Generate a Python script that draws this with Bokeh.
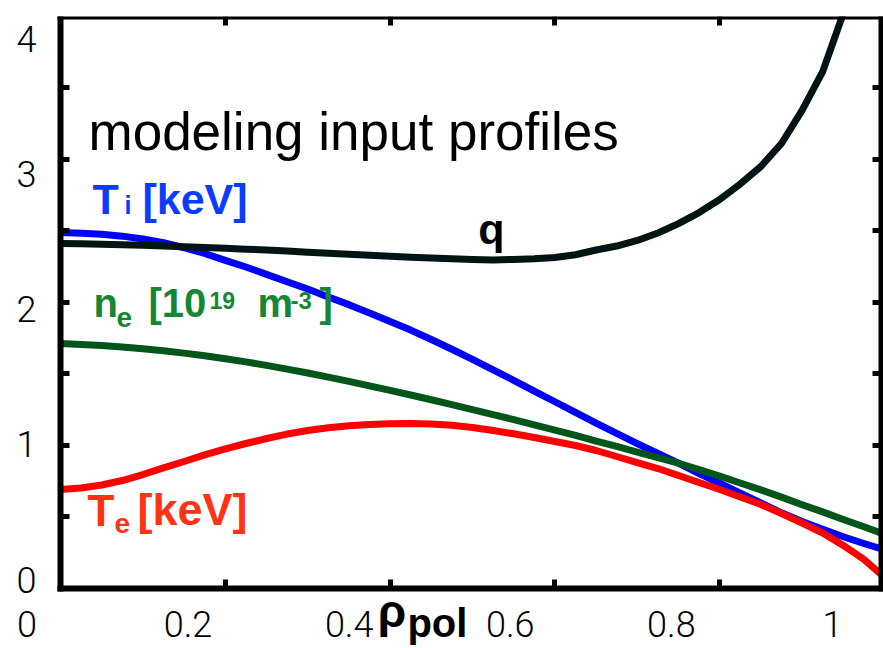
from bokeh.plotting import figure
from bokeh.models import Range1d, LinearAxis, FixedTicker, Label
from bokeh.embed import file_html
from bokeh.resources import INLINE

# Radial profiles on a common rho_pol grid (step 0.025)
rho = [0.000, 0.025, 0.050, 0.075, 0.100, 0.125, 0.150, 0.175, 0.200, 0.225,
       0.250, 0.275, 0.300, 0.325, 0.350, 0.375, 0.400, 0.425, 0.450, 0.475,
       0.500, 0.525, 0.550, 0.575, 0.600, 0.625, 0.650, 0.675, 0.700, 0.725,
       0.750, 0.775, 0.800, 0.825, 0.850, 0.875, 0.900, 0.925, 0.950, 0.975,
       1.000]
ti_kev = [2.490, 2.485, 2.477, 2.464, 2.444, 2.418, 2.383, 2.343, 2.295, 2.248,
          2.197, 2.145, 2.094, 2.039, 1.985, 1.927, 1.867, 1.807, 1.741, 1.673,
          1.602, 1.529, 1.456, 1.380, 1.306, 1.231, 1.156, 1.085, 1.013, 0.944,
          0.876, 0.804, 0.736, 0.666, 0.598, 0.529, 0.469, 0.414, 0.362, 0.315,
          0.270]
ne_1e19 = [1.713, 1.707, 1.699, 1.689, 1.677, 1.663, 1.646, 1.628, 1.607, 1.585,
           1.560, 1.534, 1.507, 1.478, 1.448, 1.417, 1.385, 1.353, 1.320, 1.286,
           1.251, 1.216, 1.181, 1.144, 1.108, 1.070, 1.031, 0.994, 0.954, 0.916,
           0.876, 0.831, 0.786, 0.738, 0.690, 0.639, 0.586, 0.536, 0.483, 0.432,
           0.379]
te_kev = [0.692, 0.703, 0.724, 0.755, 0.797, 0.843, 0.888, 0.934, 0.976, 1.014,
          1.049, 1.080, 1.105, 1.124, 1.138, 1.147, 1.152, 1.154, 1.150, 1.141,
          1.126, 1.105, 1.082, 1.056, 1.028, 1.000, 0.965, 0.923, 0.881, 0.839,
          0.790, 0.741, 0.692, 0.640, 0.587, 0.524, 0.458, 0.388, 0.301, 0.203,
          0.077]
# safety factor; it leaves the top of the box before the edge
q_safety = [2.413, 2.410, 2.408, 2.404, 2.400, 2.395, 2.390, 2.385, 2.379, 2.373,
            2.367, 2.360, 2.352, 2.345, 2.338, 2.331, 2.324, 2.317, 2.311, 2.306,
            2.301, 2.298, 2.301, 2.306, 2.315, 2.334, 2.367, 2.395, 2.434, 2.486,
            2.552, 2.629, 2.720, 2.829, 2.951, 3.112, 3.343, 3.615, 4.021, 4.503]
rho_q = rho[:len(q_safety)]

# Tick marks on the box and the printed tick labels
x_tick_marks = [0.2, 0.4, 0.6, 0.8]
y_tick_marks = [0.5, 1.0, 1.5, 2.0, 2.5, 3.0, 3.5]
x_tick_labels = [0.0, 0.2, 0.4, 0.6, 0.8, 1.0]
x_tick_text = ["0", "0.2", "0.4", "0.6", "0.8", "1"]
y_tick_labels = [0, 1, 2, 3, 4]

X_BOX = (0.0, 0.9964)
Y_BOX = (0.0, 4.0)

TICK_FONT = "Roboto Light"
BOLD_FONT = "Liberation Sans"

p = figure(width=883, height=648,
           x_range=Range1d(-0.0728, 0.9988), y_range=Range1d(-0.4196, 4.0),
           x_axis_location=None, y_axis_location=None,
           toolbar_location=None, output_backend="svg",
           min_border_left=0, min_border_right=0,
           min_border_top=16, min_border_bottom=0)
p.grid.visible = False
p.outline_line_color = None
p.background_fill_color = "white"
p.border_fill_color = "white"

# the printed tick labels use their own scales
p.extra_x_ranges = {"xlab": Range1d(-0.0328, 1.0633)}
p.extra_y_ranges = {"ylab": Range1d(-0.5109, 4.1688)}

# profiles
p.line(rho, ti_kev, line_color="#0000ff", line_width=7, line_join="round")
p.line(rho, ne_1e19, line_color="#03561a", line_width=7, line_join="round")
p.line(rho, te_kev, line_color="#ff0000", line_width=7, line_join="round")
p.line(rho_q, q_safety, line_color="#001414", line_width=7, line_join="round")


def box_side(location, bounds, marks):
    """A thick side of the box with short inward tick marks."""
    return LinearAxis(fixed_location=location, bounds=bounds,
                      ticker=FixedTicker(ticks=[], minor_ticks=marks),
                      axis_line_color="black", axis_line_width=6,
                      axis_line_cap="square",
                      major_tick_line_color=None,
                      minor_tick_in=9, minor_tick_out=0,
                      minor_tick_line_width=5, minor_tick_line_color="black")


p.add_layout(box_side(Y_BOX[0], X_BOX, x_tick_marks), "below")
p.add_layout(box_side(Y_BOX[1], X_BOX, x_tick_marks), "above")
p.add_layout(box_side(X_BOX[0], Y_BOX, y_tick_marks), "left")
p.add_layout(box_side(X_BOX[1], Y_BOX, y_tick_marks), "right")


def label_axis(ticks, standoff, **kw):
    return LinearAxis(ticker=FixedTicker(ticks=ticks),
                      major_tick_in=0, major_tick_out=0,
                      major_tick_line_color=None,
                      minor_tick_line_color=None, axis_line_color=None,
                      major_label_text_font=TICK_FONT,
                      major_label_text_font_size="36px",
                      major_label_text_color="black",
                      major_label_standoff=standoff, **kw)


xlab_axis = label_axis(x_tick_labels, 23, x_range_name="xlab",
                       fixed_location=Y_BOX[0])
xlab_axis.major_label_overrides = dict(zip(x_tick_labels, x_tick_text))
p.add_layout(xlab_axis, "below")
p.add_layout(label_axis(y_tick_labels, 24, y_range_name="ylab",
                        fixed_location=X_BOX[0]), "left")


def add_text(x, y, text, size, color="black", bold=True, font=BOLD_FONT):
    # (x, y) is the left end of the text's middle line
    p.add_layout(Label(x=x, y=y, text=text, text_font=font,
                       text_font_size=size, text_color=color,
                       text_font_style="bold" if bold else "normal",
                       text_baseline="middle", text_align="left"))


add_text(0.034, 3.199, "modeling input profiles", "53px", bold=False)

ti_col = "#0a3cff"
add_text(0.0388, 2.727, "T", "43px", ti_col)
add_text(0.0777, 2.684, "i", "25px", ti_col)
add_text(0.0995, 2.727, "[keV]", "43px", ti_col)

ne_col = "#148737"
add_text(0.040, 1.993, "n", "40px", ne_col)
add_text(0.068, 1.894, "e", "28px", ne_col)
add_text(0.1068, 1.993, "[10", "40px", ne_col)
add_text(0.1808, 2.014, "19", "23px", ne_col)
add_text(0.239, 1.993, "m", "40px", ne_col)
add_text(0.279, 2.017, "-3", "24px", ne_col)
add_text(0.3143, 1.993, "]", "40px", ne_col)

add_text(0.507, 2.517, "q", "43px", "black")

te_col = "#ff3214"
add_text(0.0328, 0.548, "T", "44px", te_col)
add_text(0.0655, 0.453, "e", "28px", te_col)
add_text(0.0934, 0.551, "[keV]", "45px", te_col)

# axis title, written beside the tick labels
add_text(0.385, -0.160, "ρ", "46px", "black")
add_text(0.421, -0.238, "pol", "40px", "black")

open("out.html", "w").write(file_html(p, INLINE))
